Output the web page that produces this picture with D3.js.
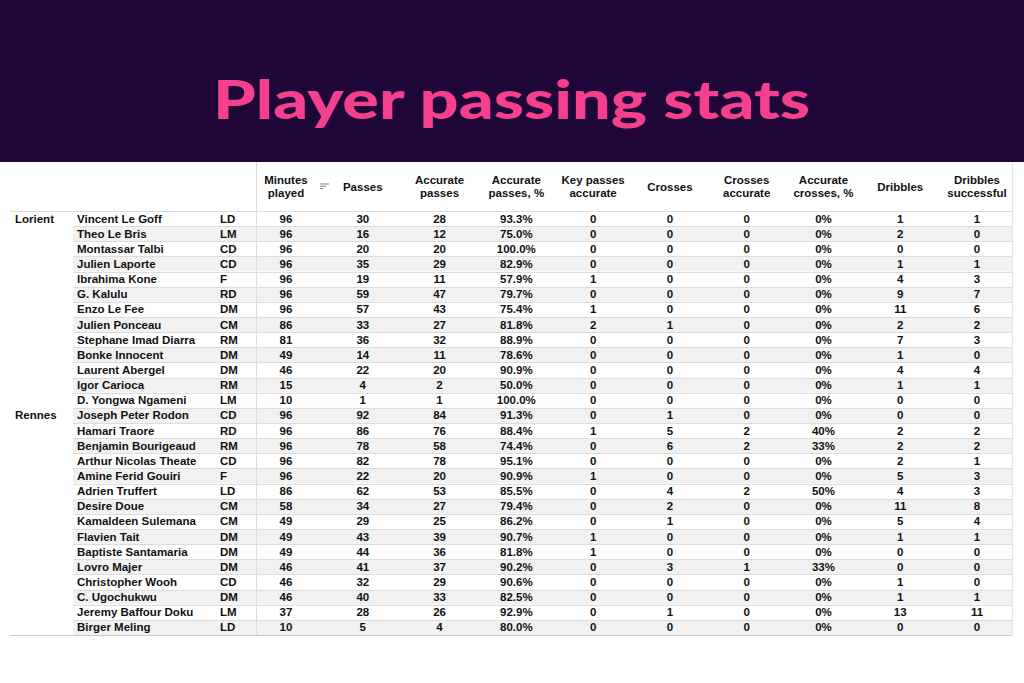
<!DOCTYPE html>
<html><head><meta charset="utf-8">
<script src="https://cdn.jsdelivr.net/npm/d3@7"></script>
<style>body{margin:0;background:#fff}svg{display:block}</style>
</head><body>
<svg id="c" width="1024" height="683"></svg>
<script>
const title = "Player passing stats";
const headers = [["Minutes","played"],["Passes"],["Accurate","passes"],["Accurate","passes, %"],["Key passes","accurate"],["Crosses"],["Crosses","accurate"],["Accurate","crosses, %"],["Dribbles"],["Dribbles","successful"]];
const teams = ["Lorient","Rennes"];
const teamSizes = [13,14];
const players = ["Vincent Le Goff","Theo Le Bris","Montassar Talbi","Julien Laporte","Ibrahima Kone","G. Kalulu","Enzo Le Fee","Julien Ponceau","Stephane Imad Diarra","Bonke Innocent","Laurent Abergel","Igor Carioca","D. Yongwa Ngameni",
"Joseph Peter Rodon","Hamari Traore","Benjamin Bourigeaud","Arthur Nicolas Theate","Amine Ferid Gouiri","Adrien Truffert","Desire Doue","Kamaldeen Sulemana","Flavien Tait","Baptiste Santamaria","Lovro Majer","Christopher Wooh","C. Ugochukwu","Jeremy Baffour Doku","Birger Meling"];
const positions = ["LD","LM","CD","CD","F","RD","DM","CM","RM","DM","DM","RM","LM","CD","RD","RM","CD","F","LD","CM","CM","DM","DM","DM","CD","DM","LM","LD"];
const minutes = [96,96,96,96,96,96,96,86,81,49,46,15,10,96,96,96,96,96,86,58,49,49,49,46,46,46,37,10];
const passes = [30,16,20,35,19,59,57,33,36,14,22,4,1,92,86,78,82,22,62,34,29,43,44,41,32,40,28,5];
const accPasses = [28,12,20,29,11,47,43,27,32,11,20,2,1,84,76,58,78,20,53,27,25,39,36,37,29,33,26,4];
const accPassPct = ["93.3%","75.0%","100.0%","82.9%","57.9%","79.7%","75.4%","81.8%","88.9%","78.6%","90.9%","50.0%","100.0%","91.3%","88.4%","74.4%","95.1%","90.9%","85.5%","79.4%","86.2%","90.7%","81.8%","90.2%","90.6%","82.5%","92.9%","80.0%"];
const keyPasses = [0,0,0,0,1,0,1,2,0,0,0,0,0,0,1,0,0,1,0,0,0,1,1,0,0,0,0,0];
const crosses = [0,0,0,0,0,0,0,1,0,0,0,0,0,1,5,6,0,0,4,2,1,0,0,3,0,0,1,0];
const accCrosses = [0,0,0,0,0,0,0,0,0,0,0,0,0,0,2,2,0,0,2,0,0,0,0,1,0,0,0,0];
const accCrossPct = ["0%","0%","0%","0%","0%","0%","0%","0%","0%","0%","0%","0%","0%","0%","40%","33%","0%","0%","50%","0%","0%","0%","0%","33%","0%","0%","0%","0%"];
const dribbles = [1,2,0,1,4,9,11,2,7,1,4,1,0,0,2,2,2,5,4,11,5,1,0,0,1,1,13,0];
const dribblesSucc = [1,0,0,1,3,7,6,2,3,0,4,1,0,0,2,2,1,3,3,8,4,1,0,0,0,1,11,0];

const cols = [minutes,passes,accPasses,accPassPct,keyPasses,crosses,accCrosses,accCrossPct,dribbles,dribblesSucc];
const svg = d3.select("#c");
svg.append("rect").attr("width",1024).attr("height",162).attr("fill","#1f0639");
svg.append("text").attr("x",213).attr("y",119).attr("textLength",597).attr("lengthAdjust","spacingAndGlyphs")
  .attr("font-family","Lato").attr("font-weight",900).attr("font-size",54).attr("fill","#f4408d").text(title);

const n = players.length;
const y = d3.scaleBand().domain(d3.range(n)).range([211,635]);
const x = d3.scalePoint().domain(d3.range(cols.length)).range([286,977]);
const g = svg.append("g").attr("font-family","Liberation Sans, Arial").attr("font-weight","bold").attr("font-size",11.5).attr("fill","#111");
g.selectAll(".sh").data(d3.range(n)).join("rect").attr("x",73).attr("width",939)
  .attr("y",i=>y(i)).attr("height",y.bandwidth()).attr("fill",i=>i%2? "#f1f1f1":"#fff");
g.selectAll(".ln").data(d3.range(n+1)).join("line").attr("x1",73).attr("x2",1012)
  .attr("y1",i=>Math.round(i<n?y(i):635)+0.5).attr("y2",i=>Math.round(i<n?y(i):635)+0.5).attr("stroke","#ddd");
g.append("line").attr("x1",10).attr("x2",1012).attr("y1",635.5).attr("y2",635.5).attr("stroke","#ccc");
g.append("line").attr("x1",10).attr("x2",1012).attr("y1",211.5).attr("y2",211.5).attr("stroke","#ddd");
g.append("line").attr("x1",256.5).attr("x2",256.5).attr("y1",162).attr("y2",635).attr("stroke","#ddd");
g.append("line").attr("x1",1012.5).attr("x2",1012.5).attr("y1",162).attr("y2",635).attr("stroke","#e6e6e6");
headers.forEach((h,j)=>{
  const t = g.append("text").attr("text-anchor","middle").attr("x",x(j));
  const y0 = h.length===2 ? 184 : 190.5;
  h.forEach((s,k)=>t.append("tspan").attr("x",x(j)).attr("y",y0+k*13).text(s));
});
[[0,9],[1.5,6],[3,3]].forEach(([o,w])=>g.append("line").attr("x1",320).attr("x2",320+w).attr("y1",184+o*1.5).attr("y2",184+o*1.5).attr("stroke","#888").attr("stroke-width",1));
let start=0;
teams.forEach((t,k)=>{ g.append("text").attr("x",15).attr("y",y(start)+y.bandwidth()/2+4).text(t); start+=teamSizes[k]; });
const cy = i=>y(i)+y.bandwidth()/2+4;
g.selectAll(".nm").data(players).join("text").attr("x",77).attr("y",(d,i)=>cy(i)).text(d=>d);
g.selectAll(".ps").data(positions).join("text").attr("x",220).attr("y",(d,i)=>cy(i)).text(d=>d);
cols.forEach((c,j)=>{
  g.selectAll(".c"+j).data(c).join("text").attr("text-anchor","middle").attr("x",x(j)).attr("y",(d,i)=>cy(i)).text(d=>d);
});
</script></body></html>
